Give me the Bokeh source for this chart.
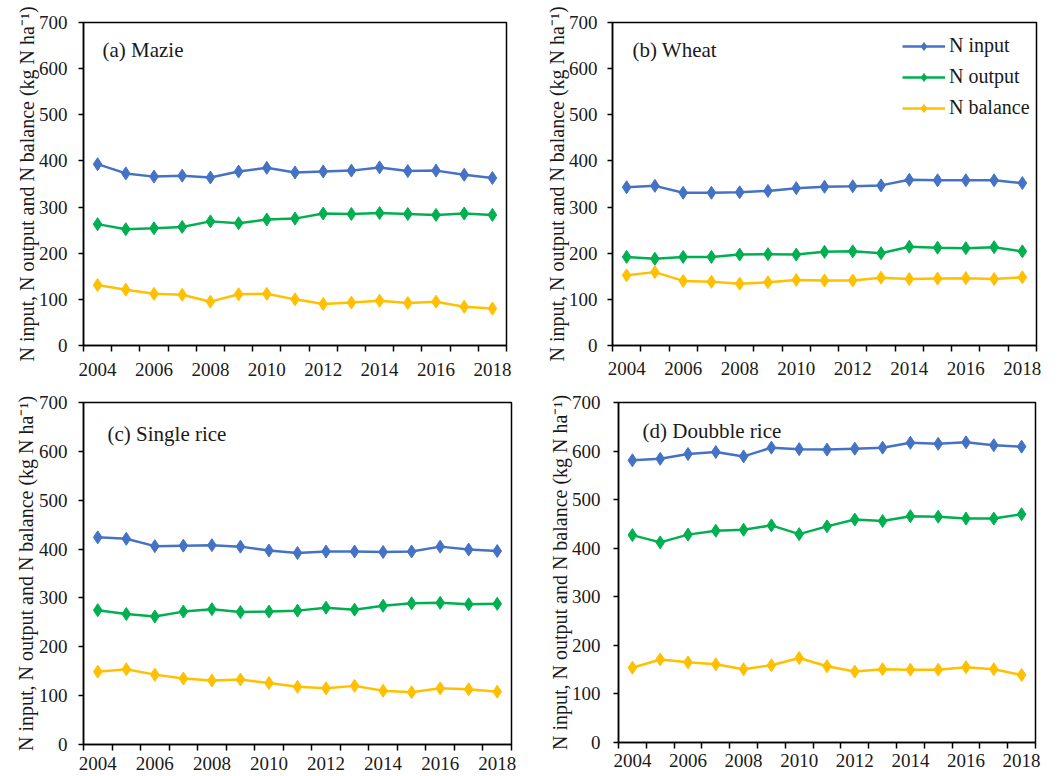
from bokeh.plotting import figure
from bokeh.layouts import row, column
from bokeh.models import FixedTicker, Label, Range1d
from bokeh.embed import file_html
from bokeh.resources import INLINE

years = list(range(2004, 2019))
x_tick_labels = [2004, 2006, 2008, 2010, 2012, 2014, 2016, 2018]

maize_input = [393, 373, 366, 368, 364, 377, 385, 375, 377, 379, 386, 378, 379, 370, 363]
maize_output = [263, 252, 254, 257, 269, 265, 273, 275, 286, 285, 287, 285, 283, 286, 283]
maize_balance = [131, 121, 112, 110, 95, 111, 112, 100, 90, 93, 97, 92, 95, 84, 80]

wheat_input = [343, 346, 331, 331, 332, 335, 341, 344, 345, 347, 359, 358, 358, 358, 352]
wheat_output = [192, 188, 192, 192, 197, 198, 197, 203, 204, 200, 214, 212, 211, 213, 204]
wheat_balance = [152, 159, 140, 138, 134, 137, 142, 141, 141, 147, 144, 145, 146, 144, 148]

single_input = [424, 421, 406, 407, 408, 405, 397, 392, 395, 395, 394, 395, 405, 399, 396]
single_output = [275, 267, 262, 272, 277, 271, 272, 274, 280, 276, 284, 289, 290, 287, 288]
single_balance = [149, 154, 143, 135, 131, 133, 126, 118, 115, 120, 110, 107, 115, 113, 108]

double_input = [581, 584, 594, 598, 589, 607, 604, 603, 605, 607, 617, 615, 618, 612, 609]
double_output = [427, 412, 428, 436, 438, 447, 429, 445, 459, 456, 466, 465, 461, 461, 470]
double_balance = [154, 171, 165, 161, 151, 159, 174, 157, 146, 151, 150, 150, 155, 151, 139]

series_names = ["N input", "N output", "N balance"]
colors = ["#4472C4", "#00B050", "#FFC000"]
FONT = "Liberation Serif"
YLABEL = "N input, N output and N balance (kg N ha\u207b\u00b9)"


def make_panel(title, data, fw, fh, bl, br, bt, bb, tx, ty, legend=False,
               ystand=0, xstand=8, tstand=11):
    p = figure(frame_width=fw, frame_height=fh, min_border_left=bl, min_border_right=br,
               min_border_top=bt, min_border_bottom=bb, output_backend="svg",
               toolbar_location=None, x_range=Range1d(2003.5, 2018.5),
               y_range=Range1d(0, 700))
    p.xgrid.visible = False
    p.ygrid.visible = False
    p.outline_line_color = "black"
    p.outline_line_width = 1.5
    p.background_fill_color = "white"
    p.border_fill_color = "white"

    minor = [2003.5 + i for i in range(16)]
    p.xaxis.ticker = FixedTicker(ticks=x_tick_labels, minor_ticks=minor)
    p.xaxis.major_tick_line_color = None
    p.xaxis.major_tick_out = 6
    p.xaxis.major_tick_in = 0
    p.xaxis.minor_tick_line_color = "black"
    p.xaxis.minor_tick_line_width = 1.5
    p.xaxis.minor_tick_out = 6
    p.xaxis.minor_tick_in = 0
    p.xaxis.major_label_standoff = xstand

    p.yaxis.ticker = FixedTicker(ticks=list(range(0, 701, 100)), minor_ticks=[])
    p.yaxis.major_tick_line_color = "black"
    p.yaxis.major_tick_line_width = 1.5
    p.yaxis.major_tick_out = 5
    p.yaxis.major_tick_in = 0
    p.yaxis.minor_tick_line_color = None
    p.yaxis.major_label_standoff = tstand
    p.yaxis.axis_label = YLABEL
    p.yaxis.axis_label_standoff = ystand
    p.yaxis.axis_label_text_font = FONT
    p.yaxis.axis_label_text_font_size = "20px"
    p.yaxis.axis_label_text_font_style = "normal"
    p.yaxis.axis_label_text_color = "#1a1a1a"

    for ax in (p.xaxis, p.yaxis):
        ax.axis_line_color = "black"
        ax.axis_line_width = 1.5
        ax.major_label_text_font = FONT
        ax.major_label_text_font_size = "19px"
        ax.major_label_text_color = "#1a1a1a"

    for name, vals, c in zip(series_names, data, colors):
        if legend:
            p.line(years, vals, line_color=c, line_width=2.5, legend_label=name)
            p.scatter(years, vals, marker="diamond", size=13, fill_color=c, line_color=c,
                      legend_label=name)
        else:
            p.line(years, vals, line_color=c, line_width=2.5)
            p.scatter(years, vals, marker="diamond", size=13, fill_color=c, line_color=c)

    p.add_layout(Label(x=tx, y=fh - ty, x_units="screen", y_units="screen", text=title,
                       text_font=FONT, text_font_size="21px", text_color="#1a1a1a",
                       text_baseline="middle"))

    if legend:
        lg = p.legend[0]
        lg.location = (290, 226)
        lg.border_line_color = None
        lg.background_fill_alpha = 0
        lg.label_text_font = FONT
        lg.label_text_font_size = "20px"
        lg.label_text_color = "#1a1a1a"
        lg.glyph_width = 43
        lg.glyph_height = 20
        lg.label_height = 20
        lg.spacing = 8
        lg.margin = 0
        lg.padding = 8
        lg.label_standoff = 4
    return p


pa = make_panel("(a) Mazie", [maize_input, maize_output, maize_balance],
                423, 323, 83, 22, 20, 40, 19, 27, ystand=-2, xstand=11, tstand=11)
pb = make_panel("(b) Wheat", [wheat_input, wheat_output, wheat_balance],
                424, 323, 84, 11, 22, 38, 20, 27, legend=True, ystand=-2, xstand=10, tstand=10)
pc = make_panel("(c) Single rice", [single_input, single_output, single_balance],
                428, 342, 83, 17, 16, 34, 24, 31, ystand=-1, xstand=6, tstand=11)
pd = make_panel("(d) Doubble rice", [double_input, double_output, double_balance],
                417, 340, 90, 12, 19, 33, 24, 28, ystand=-2, xstand=5, tstand=13)

layout = column(row(pa, pb), row(pc, pd))
open("out.html", "w").write(file_html(layout, INLINE))
